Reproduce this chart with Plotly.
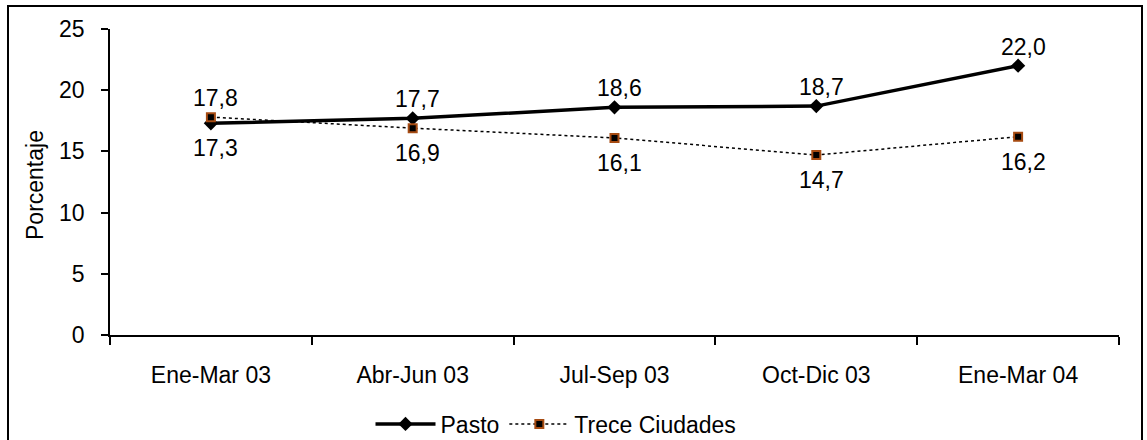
import plotly.graph_objects as go

categories = ["Ene-Mar 03", "Abr-Jun 03", "Jul-Sep 03", "Oct-Dic 03", "Ene-Mar 04"]
pasto = [17.3, 17.7, 18.6, 18.7, 22.0]
trece = [17.8, 16.9, 16.1, 14.7, 16.2]
y_ticks = [0, 5, 10, 15, 20, 25]

FONT = "Arial, Liberation Sans, sans-serif"
FS = 23
W, H = 1147, 440
L, R, T, B = 110, 28, 29, 105
PW, PH = W - L - R, H - T - B


def px_x(p):
    return (p - L) / PW


def px_y(p):
    return (H - B - p) / PH


def fmt(v):
    return f"{v:.1f}".replace(".", ",")


fig = go.Figure()
fig.add_trace(go.Scatter(
    x=categories, y=pasto, name="Pasto", mode="lines+markers",
    line=dict(color="black", width=3.5),
    marker=dict(symbol="diamond", size=11, color="black"),
))
fig.add_trace(go.Scatter(
    x=categories, y=trece, name="Trece Ciudades", mode="lines+markers",
    line=dict(color="black", width=1.5, dash="dot"),
    marker=dict(symbol="square", size=8, color="black",
                line=dict(color="#A64B12", width=2)),
))

annotations = []
for c, p, t in zip(categories, pasto, trece):
    p_above = p >= t
    annotations.append(dict(x=c, y=p, text=fmt(p), showarrow=False,
                            xshift=5, yshift=19 if p_above else -25,
                            font=dict(family=FONT, size=FS, color="black")))
    annotations.append(dict(x=c, y=t, text=fmt(t), showarrow=False,
                            xshift=5, yshift=-25 if p_above else 19,
                            font=dict(family=FONT, size=FS, color="black")))

annotations.append(dict(xref="paper", yref="paper", x=px_x(35), y=px_y(185),
                        xanchor="center", yanchor="middle",
                        text="Porcentaje", textangle=-90, showarrow=False,
                        font=dict(family=FONT, size=FS, color="black")))

fig.update_layout(
    width=W, height=H,
    margin=dict(l=L, r=R, t=T, b=B, autoexpand=False),
    paper_bgcolor="white", plot_bgcolor="white",
    font=dict(family=FONT, size=FS, color="black"),
    showlegend=True,
    legend=dict(orientation="h", x=px_x(556), y=px_y(424),
                xanchor="center", yanchor="middle",
                font=dict(family=FONT, size=FS, color="black"),
                bgcolor="rgba(0,0,0,0)", itemwidth=60),
    annotations=annotations,
    shapes=[dict(type="rect", xref="paper", yref="paper",
                 x0=px_x(8), x1=px_x(1142), y0=px_y(441), y1=px_y(6),
                 line=dict(color="black", width=2), fillcolor="rgba(0,0,0,0)",
                 layer="below")],
)
fig.update_xaxes(
    type="category", range=[-0.5, len(categories) - 0.5],
    tickson="boundaries", ticks="outside", ticklen=8,
    tickwidth=1.5, tickcolor="black", showline=True, linecolor="black",
    linewidth=1.5, showgrid=False, zeroline=False, ticklabelstandoff=19,
    tickfont=dict(family=FONT, size=FS, color="black"),
)
fig.update_yaxes(
    range=[0, 25], tickvals=y_ticks, ticks="outside", ticklen=7,
    tickwidth=1.5, tickcolor="black", showline=True, linecolor="black",
    linewidth=1.5, showgrid=False, zeroline=False, ticklabelstandoff=12,
    tickfont=dict(family=FONT, size=FS, color="black"),
)

fig.write_html("out.html",
               config={"displayModeBar": False},
               post_script="document.body.style.margin='0';"
                           "document.body.style.overflow='hidden';")
